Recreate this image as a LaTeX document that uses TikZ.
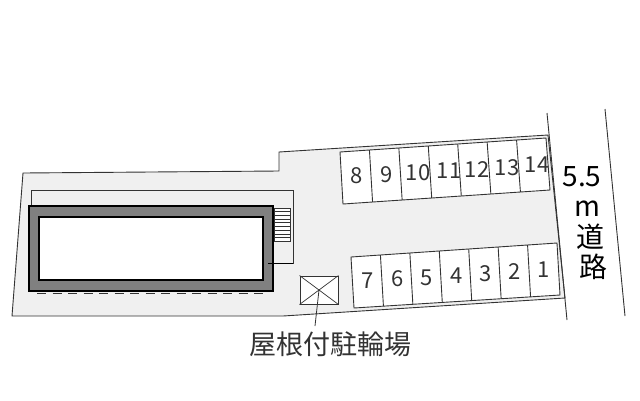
\documentclass[tikz,border=0pt]{standalone}
\usepackage{fontspec}
\setmainfont{Noto Sans CJK JP}
\usetikzlibrary{calc}
\definecolor{lotgray}{gray}{0.94}
\definecolor{linegray}{gray}{0.2}
\definecolor{wallgray}{gray}{0.5}
\begin{document}
\begin{tikzpicture}[x=1pt,y=-1pt,
    outline/.style ={draw=linegray, line width=0.9pt},
    slotnum/.style ={inner sep=0pt, font=\fontsize{22}{22}\selectfont, text=linegray},
    roadtext/.style ={inner sep=0pt, font=\fontsize{28}{28}\selectfont, text=black}]
   \useasboundingbox[fill=white] (0,0) rectangle (640,400);
   % lot
   \draw[outline, fill=lotgray] (23,173) -- (279,171) -- (279,152) -- (548,135) -- (565,298) -- (283,316) -- (12,316) -- cycle;
   % road
   \coordinate (roadA) at (547,113);
   \coordinate (roadB) at (567,320);
   \coordinate (roadC) at (605,109);
   \coordinate (roadD) at (625,316);
   \draw[outline] (roadA) -- (roadB);
   \draw[outline] (roadC) -- (roadD);
   % building
   \draw[outline, line width=0.7pt] (31,205) -- (31,190) -- (293,190) -- (293,263) -- (268,263);
   \node[draw=black, line width=1.4pt, fill=wallgray, minimum width=244pt, minimum height=85pt, inner sep=0pt] (wall) at (151,248.5) {};
   \node[draw=black, line width=1.8pt, fill=white, minimum width=224pt, minimum height=63pt, inner sep=0pt] (room) at (151,248.5) {};
   \draw[black, line width=1pt] (268,263) -- (293,263);
   \draw[linegray, line width=1pt, dash pattern=on 9pt off 6.5pt] (37,293) -- (267,293);
   % stairs
   \node[draw=linegray, fill=white, line width=0.8pt, minimum width=16pt, minimum height=33pt, inner sep=0pt] (stairs) at (282,224.5) {};
   \foreach \i in {1,...,8}
     \draw[linegray, line width=0.7pt] ($(stairs.north west)!\i/9!(stairs.south west)$) -- ($(stairs.north east)!\i/9!(stairs.south east)$);
   % upper row
   \coordinate (upA) at (340,152);
   \coordinate (upB) at (546,138);
   \coordinate (upC) at (550,190);
   \coordinate (upD) at (343,204);
   \draw[outline, fill=white] (upA) -- (upB) -- (upC) -- (upD) -- cycle;
   \foreach \i in {1,...,6}
     \draw[outline] ($(upA)!\i/7!(upB)$) -- ($(upD)!\i/7!(upC)$);
   \node[slotnum] (n8) at (357,176) {8};
   \node[slotnum] (n9) at (387,175) {9};
   \node[slotnum] (n10) at (418,173) {10};
   \node[slotnum] (n11) at (449,171) {11};
   \node[slotnum] (n12) at (477,170) {12};
   \node[slotnum] (n13) at (507,168) {13};
   \node[slotnum] (n14) at (537,165) {14};
   % lower row
   \coordinate (lowA) at (351,257);
   \coordinate (lowB) at (557,243);
   \coordinate (lowC) at (560,295);
   \coordinate (lowD) at (354,308);
   \draw[outline, fill=white] (lowA) -- (lowB) -- (lowC) -- (lowD) -- cycle;
   \foreach \i in {1,...,6}
     \draw[outline] ($(lowA)!\i/7!(lowB)$) -- ($(lowD)!\i/7!(lowC)$);
   \node[slotnum] (n7) at (368,281) {7};
   \node[slotnum] (n6) at (398,279) {6};
   \node[slotnum] (n5) at (427,278) {5};
   \node[slotnum] (n4) at (457,276) {4};
   \node[slotnum] (n3) at (486,274) {3};
   \node[slotnum] (n2) at (515,272) {2};
   \node[slotnum] (n1) at (544,270) {1};
   % bicycle shed
   \node[draw=linegray, fill=white, line width=1pt, minimum width=38pt, minimum height=28pt, inner sep=0pt] (shed) at (319,290) {};
   \draw[linegray, line width=0.7pt] (shed.north west) -- (shed.south east);
   \draw[linegray, line width=0.7pt] (shed.north east) -- (shed.south west);
   \node[inner sep=0pt, font=\fontsize{27}{27}\selectfont, text=linegray] (shedlabel) at (330,344) {屋根付駐輪場};
   \coordinate (shedend) at (315,326);
   \draw[linegray, line width=0.8pt] (shed.center) -- (shedend);
   % road label
   \node[roadtext] (roadwidth) at (582,177) {5.5};
   \node[roadtext] (roadm) at (587,209) {m};
   \node[roadtext] (road1) at (590,237) {道};
   \node[roadtext] (road2) at (593,267) {路};
 \end{tikzpicture}
\end{document}
